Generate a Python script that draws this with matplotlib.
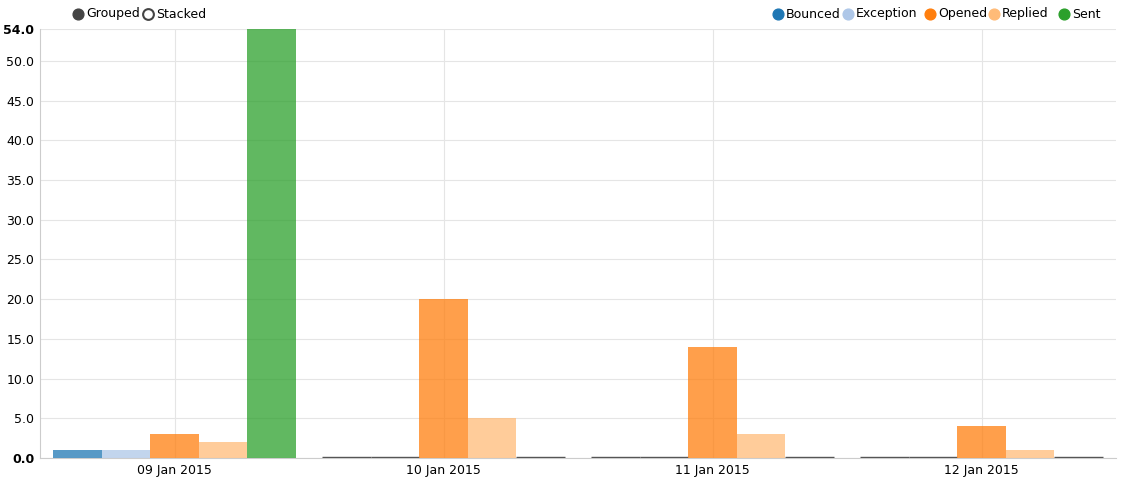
import matplotlib
matplotlib.use("Agg")
import matplotlib.pyplot as plt
import numpy as np

dates = ["09 Jan 2015", "10 Jan 2015", "11 Jan 2015", "12 Jan 2015"]
series = ["Bounced", "Exception", "Opened", "Replied", "Sent"]
colors = ["#1f77b4", "#aec7e8", "#ff7f0e", "#ffbb78", "#2ca02c"]
values = {
    "Bounced":   [1, 0, 0, 0],
    "Exception": [1, 0, 0, 0],
    "Opened":    [3, 20, 14, 4],
    "Replied":   [2, 5, 3, 1],
    "Sent":      [54, 0, 0, 0],
}
yticks = [0, 5, 10, 15, 20, 25, 30, 35, 40, 45, 50, 54]

W, H = 1132, 492
fig = plt.figure(figsize=(W/100, H/100), dpi=100)
ax = fig.add_axes([40/W, (H-458)/H, (1116-40)/W, (458-29)/H])
ax.set_xlim(-0.5, 3.5)
ax.set_ylim(0, 54)
bw = 0.9/5
for i, s in enumerate(series):
    x = np.arange(4) - 0.45 + bw*(i+0.5)
    v = np.array(values[s])
    ax.bar(x, v, width=bw, color=colors[i], alpha=0.75, zorder=3)
    for xi, vi in zip(x, v):
        if vi == 0:
            ax.hlines(0.1, xi-bw/2, xi+bw/2, color="#555555", lw=1, zorder=3)
ax.set_xticks(range(4))
ax.set_xticklabels(dates, fontsize=9)
ax.set_yticks(yticks)
ax.set_yticklabels([f"{t:.1f}" for t in yticks], fontsize=9)
for lbl in ax.get_yticklabels():
    if lbl.get_text() in ("0.0", "54.0"):
        lbl.set_fontweight("bold")
ax.tick_params(length=0, pad=4)
ax.grid(True, color="#e5e5e5", lw=0.8, zorder=0)
for sp in ["top", "right"]:
    ax.spines[sp].set_visible(False)
ax.spines["left"].set_color("#cccccc")
ax.spines["bottom"].set_color("#cccccc")

ov = fig.add_axes([0, 0, 1, 1])
ov.set_xlim(0, W); ov.set_ylim(H, 0); ov.axis("off")
ov.scatter([78], [14], s=60, color="#444444")
ov.scatter([148], [14], s=60, facecolor="white", edgecolor="#444444", lw=1.5)
ov.text(86, 14, "Grouped", va="center", fontsize=9)
ov.text(156, 14, "Stacked", va="center", fontsize=9)
lx = [778, 848, 930, 994, 1064]
for x, s, c in zip(lx, series, colors):
    ov.scatter([x], [14], s=60, color=c)
    ov.text(x+8, 14, s, va="center", fontsize=9)
fig.savefig("out.png", dpi=100)
